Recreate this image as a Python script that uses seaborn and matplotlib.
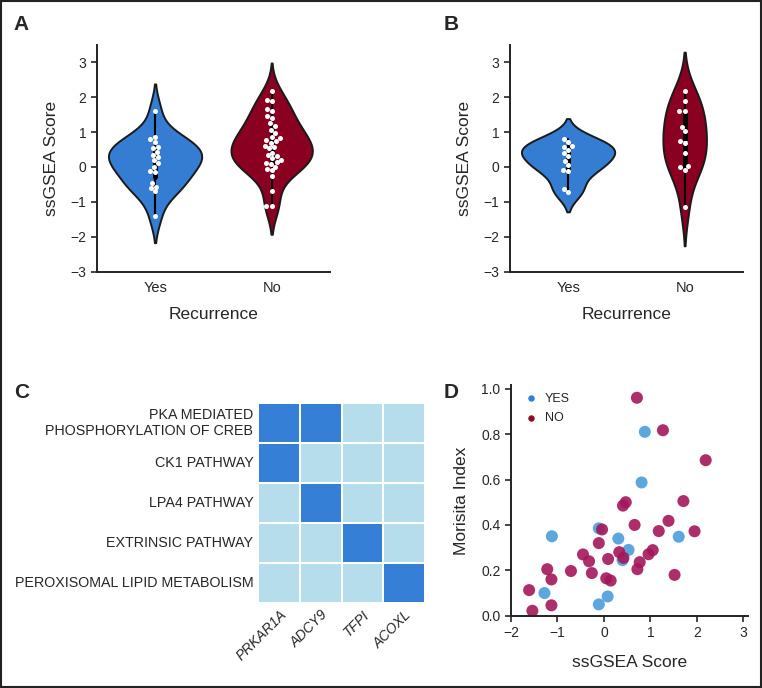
import numpy as np
import pandas as pd
import matplotlib.pyplot as plt
import seaborn as sns
from matplotlib.patches import Rectangle

# ---- data ----
a_yes = [1.61, 0.87, 0.79, 0.72, 0.58, 0.53, 0.44, 0.34, 0.29, 0.20, 0.10, 0.01,
         -0.11, -0.13, -0.47, -0.56, -0.61, -0.70, -1.40]
a_no = [2.18, 1.93, 1.89, 1.65, 1.61, 1.45, 1.39, 1.25, 1.17, 1.06, 0.96, 0.85, 0.82,
        0.77, 0.75, 0.69, 0.60, 0.58, 0.53, 0.41, 0.34, 0.30, 0.25, 0.20, 0.15,
        0.12, 0.09, 0.01, -0.05, -0.09, -0.26, -0.70, -1.13, -1.13]
b_yes = [0.81, 0.72, 0.59, 0.57, 0.48, 0.40, 0.31, 0.17, 0.05, -0.09, -0.11, -0.62, -0.71]
b_no = [2.17, 1.88, 1.60, 1.60, 1.14, 1.02, 0.74, 0.69, 0.40, 0.02, 0.0, -0.08, -1.14]

pathways = ["PKA MEDIATED\nPHOSPHORYLATION OF CREB", "CK1 PATHWAY", "LPA4 PATHWAY",
            "EXTRINSIC PATHWAY", "PEROXISOMAL LIPID METABOLISM"]
genes = ["PRKAR1A", "ADCY9", "TFPI", "ACOXL"]
membership = [[1, 1, 0, 0],
              [1, 0, 0, 0],
              [0, 1, 0, 0],
              [0, 0, 1, 0],
              [0, 0, 0, 1]]

yes_x = [-1.12, -0.11, 0.31, 0.53, 0.40, -1.28, -0.11, 0.08, 0.81, 0.88, 1.61]
yes_y = [0.35, 0.385, 0.34, 0.29, 0.245, 0.10, 0.05, 0.085, 0.587, 0.81, 0.348]
no_x = [0.71, 1.27, 2.19, 1.71, 0.47, 0.41, 1.39, 0.66, -0.04, 1.18, 1.95, -0.11, 1.05,
        0.33, 0.96, -0.45, 0.42, 0.09, -0.32, 0.77, 0.72, -1.22, -0.71, -0.26, 1.52,
        0.05, -1.13, 0.145, -1.61, -1.13, -1.54]
no_y = [0.96, 0.817, 0.685, 0.505, 0.50, 0.485, 0.418, 0.40, 0.38, 0.373, 0.372, 0.32,
        0.289, 0.28, 0.271, 0.27, 0.255, 0.25, 0.24, 0.236, 0.205, 0.205, 0.197, 0.188,
        0.18, 0.165, 0.16, 0.155, 0.113, 0.046, 0.022]

BLUE = "#347dd3"
RED = "#8a0021"
SC_BLUE = "#4a9edb"
SC_RED = "#a3175a"

sns.set_style("ticks")
plt.rcParams["font.family"] = ["Liberation Sans", "DejaVu Sans"]
plt.rcParams["axes.linewidth"] = 1.4
plt.rcParams["axes.edgecolor"] = "#222222"

fig = plt.figure(figsize=(7.62, 6.88), dpi=100)
fig.patches.append(Rectangle((0.001, 0.001), 0.998, 0.997, transform=fig.transFigure,
                             fill=False, edgecolor="#222222", linewidth=1.5))


def violin_panel(ax, yes, no):
    df = pd.DataFrame({"Recurrence": ["Yes"] * len(yes) + ["No"] * len(no),
                       "score": yes + no})
    sns.violinplot(data=df, x="Recurrence", y="score", hue="Recurrence",
                   palette=[BLUE, RED], legend=False, ax=ax, linewidth=1.4,
                   linecolor="#1a1a1a", saturation=1, inner="box", common_norm=True,
                   inner_kws=dict(box_width=3.5, whis_width=1.5, color="black"))
    sns.swarmplot(data=df, x="Recurrence", y="score", color="white", size=3.6, ax=ax)
    ax.set_ylim(-3, 3.5)
    ax.set_yticks([-3, -2, -1, 0, 1, 2, 3])
    ax.set_yticklabels(["\u22123", "\u22122", "\u22121", "0", "1", "2", "3"])
    ax.set_xlim(-0.5, 1.5)
    ax.set_ylabel("ssGSEA Score", fontsize=12.5, labelpad=8)
    ax.set_xlabel("Recurrence", fontsize=12.5, labelpad=8)
    ax.tick_params(axis="y", labelsize=10, length=4, width=1.2)
    ax.tick_params(axis="x", labelsize=10.5, length=0, pad=7)
    sns.despine(ax=ax)


axA = fig.add_axes([0.127, 0.605, 0.306, 0.330])
violin_panel(axA, a_yes, a_no)
axB = fig.add_axes([0.669, 0.605, 0.306, 0.330])
violin_panel(axB, b_yes, b_no)

# ---- heatmap C ----
axC = fig.add_axes([0.339, 0.1235, 0.219, 0.291])
mat = pd.DataFrame(membership, index=pathways, columns=genes)
sns.heatmap(mat, cmap=["#b5ddeb", "#3580d6"], cbar=False, linewidths=1.2,
            linecolor="white", ax=axC)
axC.tick_params(length=0, labelsize=10.3)
axC.set_yticklabels(pathways, rotation=0, fontsize=10.3)
axC.set_xticklabels(genes, rotation=45, ha="right", rotation_mode="anchor",
                    fontstyle="italic", fontsize=10)
axC.set_xlabel("")
axC.set_ylabel("")

# ---- scatter D ----
axD = fig.add_axes([0.6706, 0.105, 0.311, 0.335])
sns.scatterplot(x=yes_x, y=yes_y, color=SC_BLUE, s=75, alpha=0.9, edgecolor="none",
                ax=axD, label="YES")
sns.scatterplot(x=no_x, y=no_y, color=SC_RED, s=75, alpha=0.9, edgecolor="none",
                ax=axD, label="NO")
axD.set_xlim(-2, 3.1)
axD.set_ylim(0, 1.015)
axD.set_xticks([-2, -1, 0, 1, 2, 3])
axD.set_xticklabels(["\u22122", "\u22121", "0", "1", "2", "3"])
axD.set_yticks([0, 0.2, 0.4, 0.6, 0.8, 1.0])
axD.set_yticklabels(["0.0", "0.2", "0.4", "0.6", "0.8", "1.0"])
axD.tick_params(labelsize=10, length=4, width=1.2)
axD.set_xlabel("ssGSEA Score", fontsize=12.5, labelpad=11)
axD.set_ylabel("Morisita Index", fontsize=12.5, labelpad=9)
leg = axD.legend(loc="upper left", frameon=False, fontsize=9, markerscale=0.45,
                 handletextpad=0.1, borderaxespad=0.2, labelspacing=0.6)
for h, c in zip(leg.legend_handles, ["#2f7fd8", "#8a0a2c"]):
    h.set_color(c)
    h.set_alpha(1)
sns.despine(ax=axD)

for lbl, x, y in [("A", 0.018, 0.965), ("B", 0.582, 0.965),
                  ("C", 0.018, 0.43), ("D", 0.582, 0.43)]:
    fig.text(x, y, lbl, fontsize=15, fontweight="bold", va="center")

fig.savefig("out.png", dpi=100)
